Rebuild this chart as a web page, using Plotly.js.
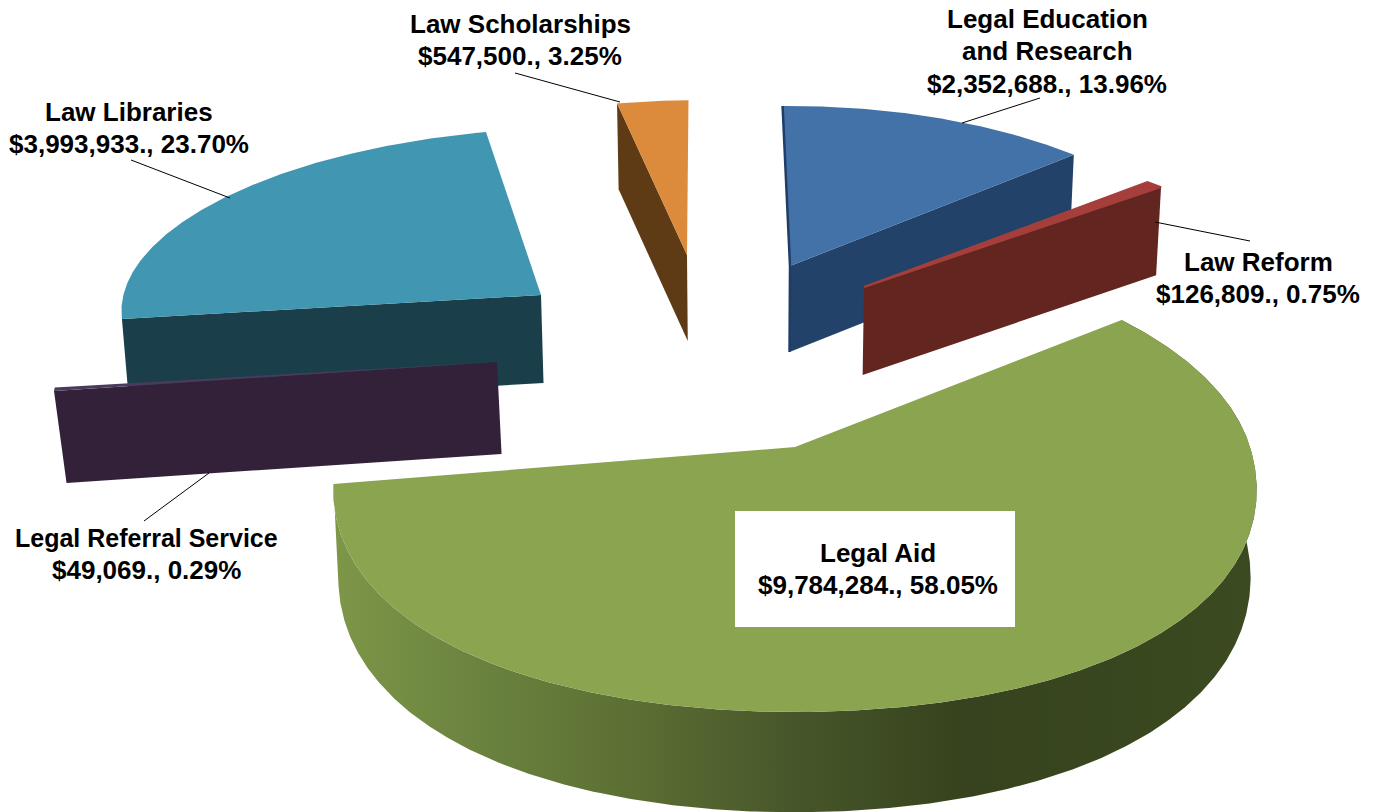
<!DOCTYPE html>
<html>
<head>
<meta charset="utf-8">
<script src="https://cdn.plot.ly/plotly-3.0.1.min.js"></script>
<style>html,body{margin:0;padding:0;background:#fff}#chart{width:1375px;height:812px}</style>
</head>
<body>
<div id="chart"></div>
<script>
// ---- data ----
const categories = ["Legal Education<br>and Research", "Law Reform", "Legal Aid", "Legal Referral Service", "Law Libraries", "Law Scholarships"];
const amounts = [2352688, 126809, 9784284, 49069, 3993933, 547500];
const topColors = ["#4272a8", "#a53f3b", "#8aa450", "#4a3a5c", "#4196b1", "#dc8a3c"];
const sideColors = ["#234269", "#632520", "#3f4d22", "#322139", "#1b3f4a", "#5e3a15"];

// ---- projection of each exploded slice (apex, radii, perspective, thickness) ----
const ROTATION = -1.2, TAPER_X = 750, TAPER = 0.012;
const geometry = [
  {ax:790, ay:266, bx:425, by:192, p:0.2,   c:0,  d:86, face:"end",   dp:0, t:TAPER, edge:"#1f3d66"},
  {ax:864, ay:287, bx:436, by:186, p:0.247, c:0,  d:88, face:"end",   dp:0, t:TAPER, stroke:2},
  {ax:795, ay:447, bx:455, by:224.6, p:0.1525, c:0, d:85, face:null,  dp:1, t:TAPER, wall:true, square:0.025},
  {ax:497, ay:362, bx:431, by:173, p:0.247, c:0,  d:92, face:"start", dp:0, t:0.018},
  {ax:541, ay:295, bx:417.6, by:167.7, p:0.003, c:39, d:88, face:"start", dp:0, t:TAPER},
  {ax:687, ay:255, bx:437, by:193, p:0.247, c:11, d:86, face:"start", dp:0, t:TAPER}
];
const labels = [
  {x:1047, y:19, size:26},  {x:1258, y:262, size:26}, {x:878, y:553, size:26},
  {x:146, y:538, size:26, firstSize:25},  {x:129, y:112, size:26},  {x:520, y:24, size:26}
];
const LINE_GAP = 32.3;
const leaders = [
  [962,123,1040,98], [1155,222,1250,241], [209,473,144,521], [131,160,230,198], [515,73,620,102]
];

// ---- geometry derived from the values ----
const total = amounts.reduce((a,b)=>a+b,0);
let cumulative = 0;
const spans = amounts.map(v => { const s = cumulative; cumulative += v; return [s/total*360+ROTATION, cumulative/total*360+ROTATION]; });

function pt(g, deg, r, down) {
  const t = deg*Math.PI/180;
  let rr = r;
  if (g.square && Math.cos(t) < 0) rr = r*(1+g.square*Math.pow(Math.sin(2*t),2));
  const X = rr*Math.sin(t), Y = rr*Math.cos(t), w = 1+g.p*Y;
  let x = g.ax + (g.bx*X + g.c*Y)/w, y = g.ay - g.by*Y/w;
  if (down) { x += (TAPER_X-x)*g.t; y += g.dp ? g.d/w : g.d; }
  return [x,y];
}
function arc(g, a, b, down) {
  const n = Math.max(2, Math.ceil(Math.abs(b-a)*2)), out = [];
  for (let i=0;i<=n;i++) out.push(pt(g, a+(b-a)*i/n, 1, down));
  return out;
}
function poly(points, color, extra) {
  const closed = points.concat([points[0]]);
  return Object.assign({type:"scatter", mode:"lines", x:closed.map(q=>q[0]), y:closed.map(q=>q[1]),
    fill:"toself", fillcolor:color, line:{width:0, color:color}, hoverinfo:"skip", showlegend:false}, extra||{});
}

const traces = [];
const order = [0,1,5,4,3,2];
order.forEach(i => {
  const g = geometry[i], [a,b] = spans[i];
  if (g.wall) {
    traces.push(poly(arc(g,a,b,false).concat(arc(g,a,b,true).reverse()), sideColors[i], {
      fillcolor:undefined,
      fillgradient:{type:"horizontal", start:335, stop:1255, colorscale:[
        [0,"#7d9648"],[0.16,"#6a823e"],[0.33,"#5b6e33"],[0.5,"#47562a"],[0.68,"#36431e"],[1,"#3b4a20"]]}
    }));
  }
  if (g.face) {
    const e = g.face==="end" ? b : a;
    traces.push(poly([pt(g,e,0,false), pt(g,e,1,false), pt(g,e,1,true), pt(g,e,0,true)], sideColors[i]));
  }
  const top = g.stroke ? {line:{width:g.stroke, color:topColors[i]}} : {};
  traces.push(poly([pt(g,a,0,false)].concat(arc(g,a,b,false)), topColors[i], top));
  if (g.edge) {
    const q = [pt(g,a,1,false), pt(g,a,0,false), pt(g,a,0,true)];
    traces.push({type:"scatter", mode:"lines", x:q.map(v=>v[0]), y:q.map(v=>v[1]), line:{width:2.5, color:g.edge}, hoverinfo:"skip", showlegend:false});
  }
});

const money = v => "$" + v.toLocaleString("en-US") + "., " + (v/total*100).toFixed(2) + "%";
const annotations = [];
categories.forEach((c,i)=>{
  (c+"<br>"+money(amounts[i])).split("<br>").forEach((line,j)=>{
    annotations.push({
      x:labels[i].x, y:labels[i].y + j*LINE_GAP, xref:"x", yref:"y", xanchor:"center", yanchor:"middle", align:"center",
      showarrow:false, text:"<b>"+line+"</b>",
      font:{family:"Liberation Sans, Arial, sans-serif", size:(j===0 && labels[i].firstSize) || labels[i].size, color:"#000"}
    });
  });
});
const shapes = leaders.map(l=>({type:"line", xref:"x", yref:"y", x0:l[0], y0:l[1], x1:l[2], y1:l[3], layer:"above", line:{color:"#000", width:1}}));
shapes.push({type:"rect", xref:"x", yref:"y", x0:735, x1:1015, y0:511, y1:627, layer:"above", fillcolor:"#fff", line:{width:0}});

Plotly.newPlot("chart", traces, {
  width:1375, height:812, margin:{l:0,r:0,t:0,b:0}, paper_bgcolor:"#fff", plot_bgcolor:"#fff",
  showlegend:false, hovermode:false,
  xaxis:{range:[0,1375], visible:false, fixedrange:true},
  yaxis:{range:[812,0], visible:false, fixedrange:true},
  annotations, shapes
}, {displayModeBar:false, staticPlot:true});
</script>
</body>
</html>
